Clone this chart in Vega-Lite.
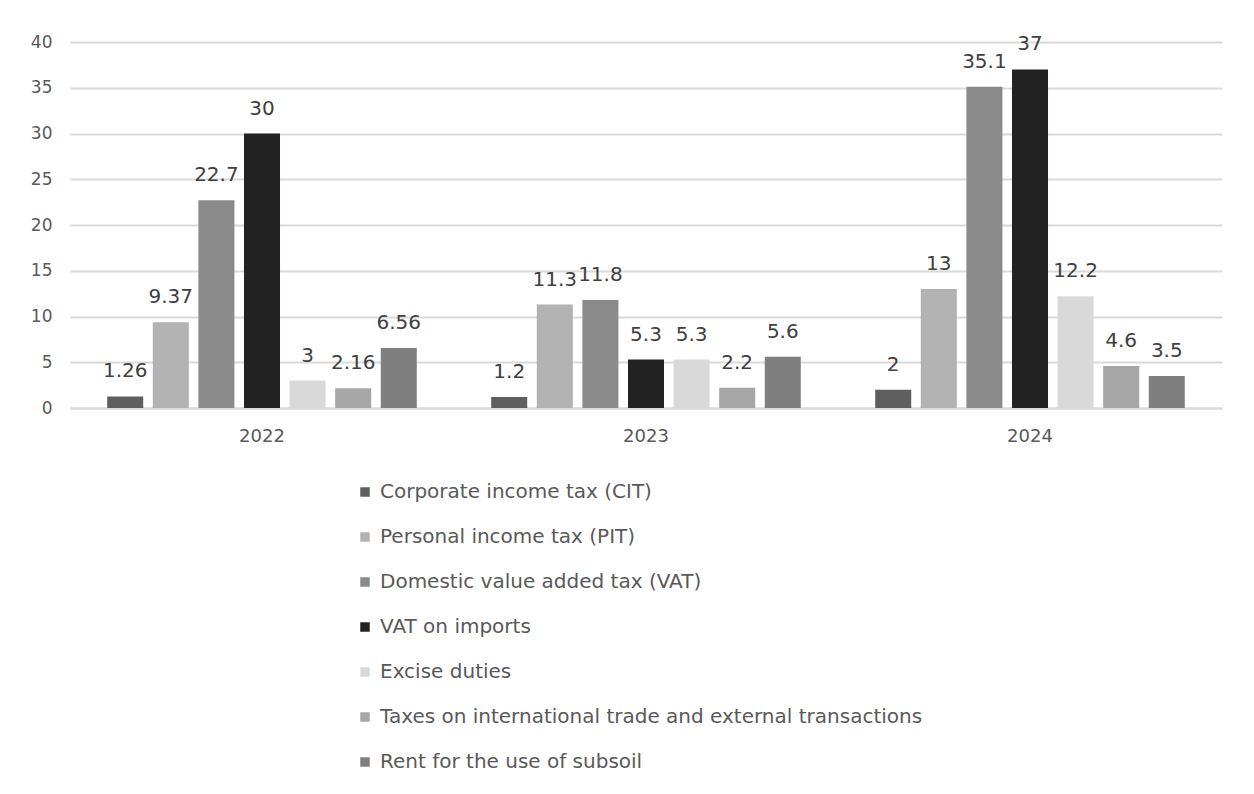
{
  "$schema": "https://vega.github.io/schema/vega-lite/v6.json",
  "width": 1152,
  "height": 366,
  "autosize": {"type": "none"},
  "padding": {"left": 70, "top": 42, "right": 32, "bottom": 386},
  "background": "white",
  "config": {
    "view": {"stroke": null},
    "font": "DejaVu Sans",
    "axis": {"labelFont": "DejaVu Sans", "labelColor": "#595959"},
    "legend": {"labelFont": "DejaVu Sans", "labelColor": "#595959"}
  },
  "data": {
    "values": [
      {"year": "2022", "tax": "Corporate income tax (CIT)", "value": 1.26},
      {"year": "2022", "tax": "Personal income tax (PIT)", "value": 9.37},
      {"year": "2022", "tax": "Domestic value added tax (VAT)", "value": 22.7},
      {"year": "2022", "tax": "VAT on imports", "value": 30},
      {"year": "2022", "tax": "Excise duties", "value": 3},
      {"year": "2022", "tax": "Taxes on international trade and external transactions", "value": 2.16},
      {"year": "2022", "tax": "Rent for the use of subsoil", "value": 6.56},
      {"year": "2023", "tax": "Corporate income tax (CIT)", "value": 1.2},
      {"year": "2023", "tax": "Personal income tax (PIT)", "value": 11.3},
      {"year": "2023", "tax": "Domestic value added tax (VAT)", "value": 11.8},
      {"year": "2023", "tax": "VAT on imports", "value": 5.3},
      {"year": "2023", "tax": "Excise duties", "value": 5.3},
      {"year": "2023", "tax": "Taxes on international trade and external transactions", "value": 2.2},
      {"year": "2023", "tax": "Rent for the use of subsoil", "value": 5.6},
      {"year": "2024", "tax": "Corporate income tax (CIT)", "value": 2},
      {"year": "2024", "tax": "Personal income tax (PIT)", "value": 13},
      {"year": "2024", "tax": "Domestic value added tax (VAT)", "value": 35.1},
      {"year": "2024", "tax": "VAT on imports", "value": 37},
      {"year": "2024", "tax": "Excise duties", "value": 12.2},
      {"year": "2024", "tax": "Taxes on international trade and external transactions", "value": 4.6},
      {"year": "2024", "tax": "Rent for the use of subsoil", "value": 3.5}
    ]
  },
  "encoding": {
    "x": {
      "field": "year", "type": "nominal", "title": null,
      "scale": {"paddingInner": 0.17, "paddingOuter": 0.085},
      "axis": {"labelAngle": 0, "labelFontSize": 18, "labelPadding": 19, "ticks": false, "domainColor": "#d9d9d9", "domainWidth": 2}
    },
    "xOffset": {
      "field": "tax", "type": "nominal",
      "sort": ["Corporate income tax (CIT)", "Personal income tax (PIT)", "Domestic value added tax (VAT)", "VAT on imports", "Excise duties", "Taxes on international trade and external transactions", "Rent for the use of subsoil"],
      "scale": {"paddingInner": 0.21, "paddingOuter": 0.1}
    },
    "y": {
      "field": "value", "type": "quantitative", "title": null,
      "scale": {"domain": [0, 40]},
      "axis": {"values": [0, 5, 10, 15, 20, 25, 30, 35, 40], "labelFontSize": 17, "labelPadding": 18, "ticks": false, "domain": false, "gridColor": "#d9d9d9", "gridWidth": 2}
    }
  },
  "layer": [
    {
      "mark": {"type": "bar"},
      "encoding": {
        "color": {
          "field": "tax", "type": "nominal", "title": null,
          "scale": {
            "domain": ["Corporate income tax (CIT)", "Personal income tax (PIT)", "Domestic value added tax (VAT)", "VAT on imports", "Excise duties", "Taxes on international trade and external transactions", "Rent for the use of subsoil"],
            "range": ["#5f5f5f", "#b2b2b2", "#8a8a8a", "#222222", "#d9d9d9", "#a6a6a6", "#7f7f7f"]
          },
          "legend": {
            "orient": "none", "legendX": 285, "legendY": 440, "direction": "vertical",
            "symbolType": "square", "symbolSize": 90, "symbolStrokeWidth": 0,
            "labelFontSize": 20, "rowPadding": 25, "labelOffset": 5, "labelLimit": 800
          }
        }
      }
    },
    {
      "mark": {"type": "text", "baseline": "bottom", "dy": -15, "fontSize": 20, "color": "#404040"},
      "encoding": {"text": {"field": "value", "type": "quantitative"}}
    }
  ]
}
